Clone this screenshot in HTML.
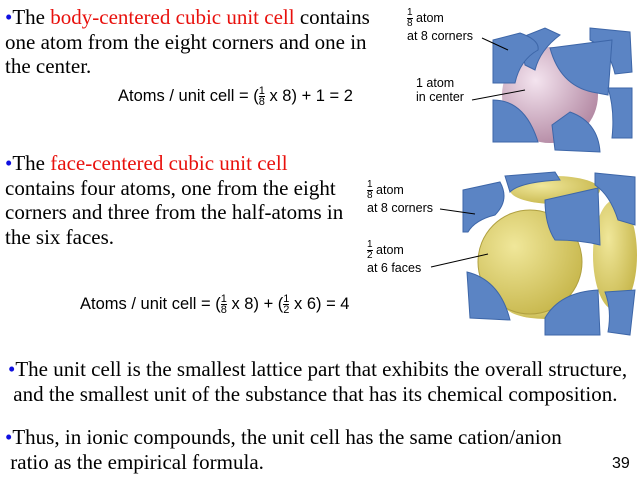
<!DOCTYPE html>
<html><head><style>
body{margin:0;width:640px;height:481px;background:#fff;position:relative;overflow:hidden;font-family:"Liberation Serif",serif;}
.t{position:absolute;font-size:21px;line-height:24.5px;color:#000;white-space:nowrap;}
.r{color:#e8100c}
.b{color:#1010e0}
.f{position:absolute;font-family:"Liberation Sans",sans-serif;font-size:16.5px;white-space:nowrap;}
.fr{display:inline-block;vertical-align:middle;text-align:center;font-size:11px;line-height:10px;}
.fr span{display:block}
.fr span:first-child{border-bottom:1px solid #000}
.l{position:absolute;font-family:"Liberation Sans",sans-serif;font-size:12.5px;line-height:14px;white-space:nowrap;}
</style></head><body>
<svg width="640" height="481" style="position:absolute;left:0;top:0">
<defs>
<radialGradient id="pk" cx="0.35" cy="0.35" r="0.7"><stop offset="0" stop-color="#f4e4ef"/><stop offset="1" stop-color="#b48aa4"/></radialGradient>
<radialGradient id="yl" cx="0.35" cy="0.35" r="0.7"><stop offset="0" stop-color="#f0e79a"/><stop offset="1" stop-color="#c8b84e"/></radialGradient>
</defs>
<!-- BCC -->
<circle cx="550" cy="95" r="48" fill="url(#pk)"/>
<g fill="#5b84c4" stroke="#3d66a8" stroke-width="1">
<path d="M520 38 L545 28 L560 35 Q540 50 535 70 L525 65 Z"/>
<path d="M590 28 L630 32 L632 72 L615 74 Q610 50 590 40 Z"/>
<path d="M493 40 L520 33 Q540 40 538 50 Q520 60 515 83 L493 83 Z"/>
<path d="M550 48 L612 40 L608 95 L592 92 Q560 85 550 48 Z"/>
<path d="M493 100 Q525 100 538 142 L493 142 Z"/>
<path d="M608 88 L632 88 L632 138 L612 138 Q615 110 608 88 Z"/>
<path d="M555 150 L600 152 Q598 122 570 112 L552 125 Z"/>
</g>
<line x1="482" y1="38" x2="508" y2="50" stroke="#000"/>
<line x1="472" y1="100" x2="525" y2="90" stroke="#000"/>
<!-- FCC -->
<ellipse cx="555" cy="190" rx="45" ry="14" fill="url(#yl)"/>
<ellipse cx="615" cy="255" rx="22" ry="55" fill="url(#yl)"/>
<ellipse cx="545" cy="305" rx="40" ry="14" fill="url(#yl)"/>
<circle cx="530" cy="262" r="52" fill="url(#yl)" stroke="#b0a040" stroke-width="1"/>
<g fill="#5b84c4" stroke="#3d66a8" stroke-width="1">
<path d="M463 190 L500 182 Q510 200 495 215 Q475 220 468 232 L463 232 Z"/>
<path d="M505 176 L555 172 L560 180 Q520 182 510 192 Z"/>
<path d="M595 173 L635 177 L635 225 L618 220 Q610 195 595 185 Z"/>
<path d="M545 200 L598 188 L600 245 Q580 240 555 240 Q545 225 545 200 Z"/>
<path d="M467 272 Q500 280 510 320 L470 318 Z"/>
<path d="M605 292 L635 290 L630 335 L608 332 Q612 310 605 292 Z"/>
<path d="M545 318 Q560 292 598 290 L600 335 L545 335 Z"/>
</g>
<line x1="440" y1="209" x2="475" y2="214" stroke="#000"/>
<line x1="431" y1="267" x2="488" y2="254" stroke="#000"/>
</svg>

<div class="t" style="left:5px;top:5px"><span class="b">•</span>The <span class="r">body-centered cubic unit cell</span> contains<br>one atom from the eight corners and one in<br>the center.</div>
<div class="f" style="left:118px;top:86px">Atoms / unit cell = (<span class="fr"><span>1</span><span>8</span></span> x 8) + 1 = 2</div>

<div class="t" style="left:5px;top:151px"><span class="b">•</span>The <span class="r">face-centered cubic unit cell</span><br>contains four atoms, one from the eight<br>corners and three from the half-atoms in<br>the six faces.</div>
<div class="f" style="left:80px;top:294px">Atoms / unit cell = (<span class="fr"><span>1</span><span>8</span></span> x 8) + (<span class="fr"><span>1</span><span>2</span></span> x 6) = 4</div>

<div class="l" style="left:407px;top:8px"><span class="fr" style="font-size:10px"><span>1</span><span>8</span></span> atom<br>at 8 corners</div>
<div class="l" style="left:416px;top:76px">1 atom<br>in center</div>
<div class="l" style="left:367px;top:180px"><span class="fr" style="font-size:10px"><span>1</span><span>8</span></span> atom<br>at 8 corners</div>
<div class="l" style="left:367px;top:240px"><span class="fr" style="font-size:10px"><span>1</span><span>2</span></span> atom<br>at 6 faces</div>

<div class="t" style="left:8px;top:357px"><span class="b">•</span>The unit cell is the smallest lattice part that exhibits the overall structure,<br>&nbsp;and the smallest unit of the substance that has its chemical composition.</div>
<div class="t" style="left:5px;top:425px"><span class="b">•</span>Thus, in ionic compounds, the unit cell has the same cation/anion<br>&nbsp;ratio as the empirical formula.</div>
<div class="t" style="left:612px;top:452px;font-family:'Liberation Sans',sans-serif;font-size:16px">39</div>
</body></html>
